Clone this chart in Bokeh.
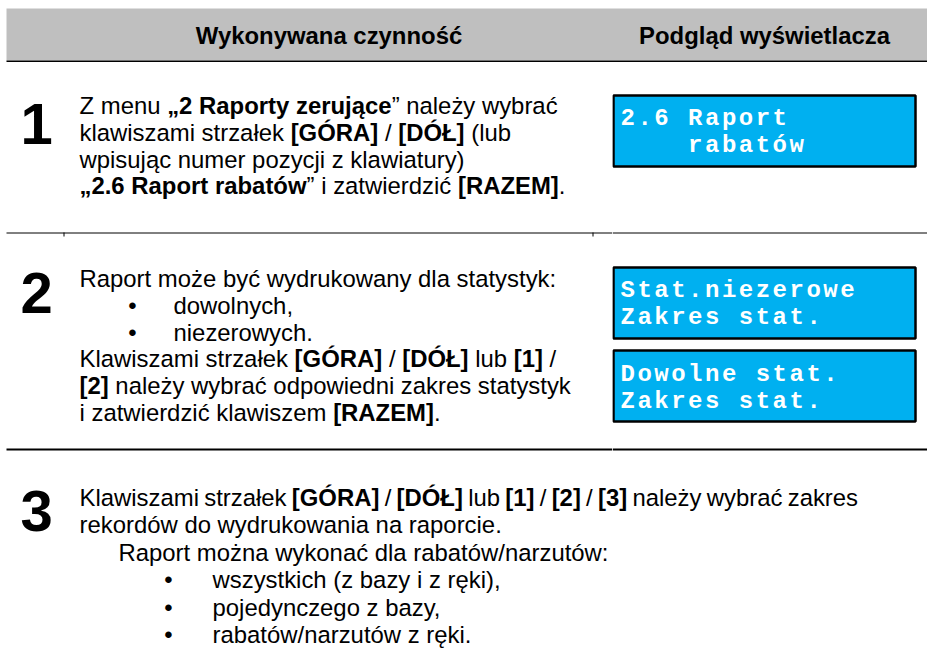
from bokeh.plotting import figure
from bokeh.models import Range1d, ColumnDataSource
from bokeh.layouts import column, row
from bokeh.core.properties import value
from bokeh.embed import file_html
from bokeh.resources import INLINE

# ---------------- content ----------------
header_texts = ["Wykonywana czynność", "Podgląd wyświetlacza"]
step_numbers = ["1", "2", "3"]
step1_lines = [
    "Z menu **„2 Raporty zerujące**” należy wybrać",
    "klawiszami strzałek **[GÓRA]** / **[DÓŁ]** (lub",
    "wpisując numer pozycji z klawiatury)",
    "**„2.6 Raport rabatów**” i zatwierdzić **[RAZEM]**.",
]
step2_lines = [
    "Raport może być wydrukowany dla statystyk:",
    "• dowolnych,",
    "• niezerowych.",
    "Klawiszami strzałek **[GÓRA]** / **[DÓŁ]** lub **[1]** /",
    "**[2]** należy wybrać odpowiedni zakres statystyk",
    "i zatwierdzić klawiszem **[RAZEM]**.",
]
step3_lines = [
    "Klawiszami strzałek **[GÓRA]** / **[DÓŁ]** lub **[1]** / **[2]** / **[3]** należy wybrać zakres",
    "rekordów do wydrukowania na raporcie.",
    "> Raport można wykonać dla rabatów/narzutów:",
    "• wszystkich (z bazy i z ręki),",
    "• pojedynczego z bazy,",
    "• rabatów/narzutów z ręki.",
]
lcd_screens = [
    ["2.6 Raport", "    rabatów"],
    ["Stat.niezerowe", "Zakres stat."],
    ["Dowolne stat.", "Zakres stat."],
]

# ---------------- layout / style ----------------
BODY_FONT = "Liberation Sans"
MONO_FONT = "Liberation Mono"
BODY_SIZE = 23.9
DIGIT_SIZE = 58
LCD_SIZE = 24
LCD_ADV = 16.9
LCD_SPACING = LCD_ADV - 0.6 * LCD_SIZE
GRAY = "#BFBFBF"
LCD_BLUE = "#00B0F0"

TEXT_X = 79
INDENT_X = 118
DIGIT_X = 20
steps_layout = [
    dict(num=step_numbers[0], lines=step1_lines, y0=105, step=26.8, digit_y=123,
         bullet_x=132, bullet_text_x=173, space_adjust={}),
    dict(num=step_numbers[1], lines=step2_lines, y0=278, step=26.8, digit_y=292,
         bullet_x=132, bullet_text_x=173, space_adjust={}),
    dict(num=step_numbers[2], lines=step3_lines, y0=497, step=27.4, digit_y=510,
         bullet_x=168, bullet_text_x=212, space_adjust={0: -1.4}),
]
lcd_boxes = [(95, 166), (267, 338), (350, 421)]
lcd_baselines = [(117.7, 145), (290, 316.7), (374, 400.7)]
LCD_LEFT, LCD_RIGHT, LCD_TEXT_X = 613, 915, 620
HEADER_Y = 35

W_TOTAL, H_TOTAL = 927, 664
SPLIT_X = 612
HEADER_BOTTOM = 62
MIDDLE_BOTTOM = 451

# Arial / Liberation Sans advance widths (units per 1000)
REG_W, BOLD_W = {}, {}
for chars, w in [("ijlł", 222), (" ,.:/[]ftI!", 278), ("r()„”-", 333), ("cksvxyzćśźżJ", 500),
                 ("abdeghnopquąęńó0123456789LŁ", 556), ("FTZ", 611), ("ABEKPSVXY", 667),
                 ("CDHNRUw", 722), ("GOQÓ", 778), ("mM", 833), ("W", 944), ("•", 350)]:
    for c in chars:
        REG_W[c] = w
for chars, w in [(" ,.ilłjI/", 278), ("ft:;[]()-", 333), ("r", 389), ("zźż„”", 500),
                 ("acesvxyąćęśkJ0123456789", 556), ("bdghnopquńóFLŁTZ", 611),
                 ("EPSVXY", 667), ("ABCDHKNRU", 722), ("GOQÓw", 778), ("M", 833),
                 ("m", 889), ("W", 944)]:
    for c in chars:
        BOLD_W[c] = w


def tw(s, bold, size=BODY_SIZE, space_adj=0.0):
    table = BOLD_W if bold else REG_W
    return sum(table.get(c, 556) for c in s) * size / 1000.0 + s.count(" ") * space_adj


def make_fig(x0, x1, y0, y1, styles=None):
    kw = dict(width=int(x1 - x0), height=int(y1 - y0), x_range=Range1d(x0, x1),
              y_range=Range1d(y1, y0), output_backend="svg", toolbar_location=None,
              tools="", min_border=0, x_axis_type=None, y_axis_type=None,
              outline_line_color=None, background_fill_color="white",
              border_fill_color="white")
    if styles:
        kw["styles"] = styles
    f = figure(**kw)
    f.grid.visible = False
    return f


def draw_steps(f, steps):
    xs, ys, texts, fstyles = [], [], [], []
    bx, by = [], []
    for st in steps:
        for i, line in enumerate(st["lines"]):
            y = st["y0"] + i * st["step"]
            adj = st["space_adjust"].get(i, 0.0)
            if line.startswith("• "):
                bx.append(st["bullet_x"])
                by.append(y)
                x = st["bullet_text_x"]
                line = line[2:]
            elif line.startswith("> "):
                x = INDENT_X
                line = line[2:]
            else:
                x = TEXT_X
            for k, part in enumerate(line.split("**")):
                bold = (k % 2 == 1)
                lead = len(part) - len(part.lstrip(" "))
                stripped = part.strip(" ")
                if stripped:
                    words = stripped.split(" ")
                    if adj and len(words) > 1:
                        wx = x + tw(" " * lead, bold, space_adj=adj)
                        for w in words:
                            xs.append(wx)
                            ys.append(y)
                            texts.append(w)
                            fstyles.append("bold" if bold else "normal")
                            wx += tw(w + " ", bold, space_adj=adj)
                    else:
                        xs.append(x + tw(" " * lead, bold, space_adj=adj))
                        ys.append(y)
                        texts.append(stripped)
                        fstyles.append("bold" if bold else "normal")
                x += tw(part, bold, space_adj=adj)
    src = ColumnDataSource(dict(x=xs, y=ys, text=texts, style=fstyles))
    f.text(x="x", y="y", text="text", source=src, text_font=value(BODY_FONT),
           text_font_size=f"{BODY_SIZE}px", text_font_style="style", text_align="left",
           text_baseline="alphabetic", text_color="black")
    if bx:
        f.text(x=bx, y=by, text=["•"] * len(bx), text_font=value(BODY_FONT),
               text_font_size=f"{BODY_SIZE}px", text_align="center",
               text_baseline="alphabetic", text_color="black")
    f.text(x=[DIGIT_X] * len(steps), y=[s["digit_y"] for s in steps],
           text=[s["num"] for s in steps], text_font=value(BODY_FONT),
           text_font_size=f"{DIGIT_SIZE}px", text_font_style="bold", text_align="left",
           text_baseline="alphabetic", text_color="black")


# ---------------- header ----------------
header = make_fig(0, W_TOTAL, 0, HEADER_BOTTOM)
header.quad(left=[6], right=[W_TOTAL], top=[8], bottom=[60], fill_color=GRAY, line_color=None)
header.segment(x0=[6], y0=[61], x1=[W_TOTAL], y1=[61], line_color="black", line_width=2)
header.text(x=[328.5, 764], y=[HEADER_Y, HEADER_Y], text=header_texts, text_font=value(BODY_FONT),
            text_font_size=f"{BODY_SIZE}px", text_font_style="bold", text_align="center",
            text_baseline="alphabetic", text_color="black")

# ---------------- middle: steps 1-2 and display previews ----------------
left = make_fig(0, SPLIT_X, HEADER_BOTTOM, MIDDLE_BOTTOM)
left.segment(x0=[6, 6], y0=[232.5, 449], x1=[SPLIT_X, SPLIT_X], y1=[232.5, 449],
             line_color="black", line_width=[1, 2])
left.segment(x0=[63.5, 592.5], y0=[232, 232], x1=[63.5, 592.5], y1=[236, 236],
             line_color="black", line_width=1)
draw_steps(left, steps_layout[:2])

right = make_fig(SPLIT_X, W_TOTAL, HEADER_BOTTOM, MIDDLE_BOTTOM,
                 styles={"letter-spacing": f"{LCD_SPACING:.2f}px"})
right.segment(x0=[SPLIT_X, SPLIT_X], y0=[232.5, 449], x1=[W_TOTAL, W_TOTAL], y1=[232.5, 449],
              line_color="black", line_width=[1, 2])
right.quad(left=[LCD_LEFT] * 3, right=[LCD_RIGHT] * 3, top=[b[0] for b in lcd_boxes],
           bottom=[b[1] for b in lcd_boxes], fill_color=LCD_BLUE, line_color="black",
           line_width=2.5)
lx, ly, lt = [], [], []
for screen, base in zip(lcd_screens, lcd_baselines):
    for line, y in zip(screen, base):
        lead = len(line) - len(line.lstrip(" "))
        lx.append(LCD_TEXT_X + lead * LCD_ADV)
        ly.append(y)
        lt.append(line.strip())
right.text(x=lx, y=ly, text=lt, text_font=value(MONO_FONT), text_font_size=f"{LCD_SIZE}px",
           text_font_style="bold", text_align="left", text_baseline="alphabetic",
           text_color="white")

# ---------------- bottom: step 3 ----------------
bottom = make_fig(0, W_TOTAL, MIDDLE_BOTTOM, H_TOTAL)
draw_steps(bottom, steps_layout[2:])

layout = column(header, row(left, right), bottom)
open("out.html", "w").write(file_html(layout, INLINE))
